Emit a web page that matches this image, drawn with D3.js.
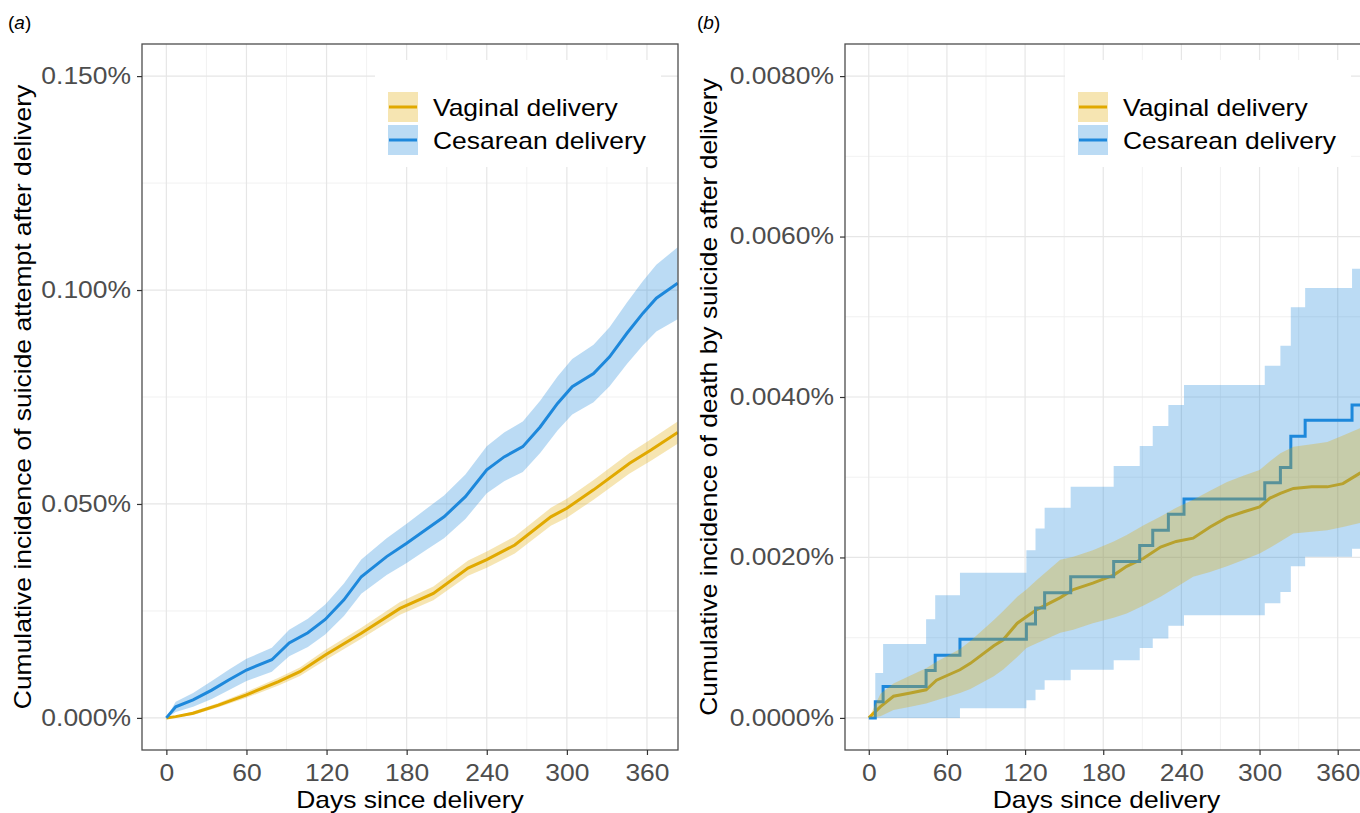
<!DOCTYPE html>
<html>
<head>
<meta charset="utf-8">
<script src="https://cdn.jsdelivr.net/npm/d3@7"></script>
<style>
  body { margin: 0; background: #fff; }
  svg { display: block; font-family: "Liberation Sans", Arial, sans-serif; }
</style>
</head>
<body>
<svg id="chart" width="1360" height="813"></svg>
<script>
// shared x axis (days since delivery)
var xTicks = [0, 60, 120, 180, 240, 300, 360];
var xMinor = [30, 90, 150, 210, 270, 330];
var xLimits = [-18.25, 383.25];
var seriesNames = ["Vaginal delivery", "Cesarean delivery"];

// (a) suicide attempt, values in %
var aYTicks = [0, 0.05, 0.10, 0.15];
var aYMinor = [0.025, 0.075, 0.125];
var aYLimits = [-0.0075, 0.1575];

var aVagDays = [0, 7, 20, 39, 60, 84, 100, 119, 146, 175, 200, 226, 240, 261, 288, 300, 320, 347, 363, 383];
var aVagEst  = [0, 0.0003, 0.0011, 0.0030, 0.0054, 0.0085, 0.0108, 0.0147, 0.0198, 0.0256, 0.0291, 0.0350, 0.0370, 0.0404, 0.0470, 0.0490, 0.0533, 0.0595, 0.0626, 0.0667];
var aVagLow  = [0, 0.0001, 0.0007, 0.0025, 0.0047, 0.0076, 0.0098, 0.0135, 0.0185, 0.0241, 0.0275, 0.0332, 0.0351, 0.0384, 0.0449, 0.0468, 0.0510, 0.0571, 0.0601, 0.0641];
var aVagHigh = [0, 0.0005, 0.0015, 0.0035, 0.0061, 0.0094, 0.0118, 0.0159, 0.0211, 0.0271, 0.0307, 0.0368, 0.0389, 0.0424, 0.0491, 0.0512, 0.0556, 0.0619, 0.0651, 0.0693];

var aCesDays = [0, 7, 20, 34, 47, 60, 79, 92, 106, 119, 133, 146, 165, 180, 194, 208, 224, 240, 253, 267, 280, 293, 304, 320, 332, 345, 357, 367, 383];
var aCesEst  = [0, 0.0026, 0.0042, 0.0065, 0.0089, 0.0112, 0.0136, 0.0175, 0.0199, 0.0230, 0.0276, 0.0330, 0.0377, 0.0408, 0.0439, 0.0470, 0.0517, 0.0580, 0.0610, 0.0634, 0.0680, 0.0735, 0.0774, 0.0805, 0.0844, 0.0899, 0.0946, 0.0981, 0.1016];
var aCesLow  = [0, 0.0014, 0.0026, 0.0044, 0.0065, 0.0086, 0.0108, 0.0144, 0.0166, 0.0195, 0.0238, 0.0290, 0.0334, 0.0362, 0.0391, 0.0420, 0.0465, 0.0525, 0.0553, 0.0575, 0.0619, 0.0672, 0.0709, 0.0738, 0.0775, 0.0827, 0.0871, 0.0903, 0.0932];
var aCesHigh = [0, 0.0038, 0.0058, 0.0086, 0.0113, 0.0138, 0.0164, 0.0206, 0.0232, 0.0265, 0.0314, 0.0370, 0.0420, 0.0454, 0.0487, 0.0520, 0.0569, 0.0635, 0.0667, 0.0693, 0.0741, 0.0798, 0.0839, 0.0872, 0.0913, 0.0971, 0.1021, 0.1059, 0.1100];

// (b) death by suicide, values in %
var bYTicks = [0, 0.002, 0.004, 0.006, 0.008];
var bYMinor = [0.001, 0.003, 0.005, 0.007];
var bYLimits = [-0.0004, 0.0084];

var bVagDays = [0, 9, 19, 32, 44, 52, 70, 78, 96, 103, 114, 121, 129, 147, 157, 172, 188, 198, 211, 224, 236, 249, 262, 275, 288, 300, 308, 316, 326, 340, 352, 364, 377, 383];
var bVagEst  = [0, 0.00014, 0.00027, 0.00031, 0.00035, 0.00047, 0.00060, 0.00068, 0.00090, 0.00097, 0.00118, 0.00126, 0.00135, 0.00150, 0.00160, 0.00168, 0.00178, 0.00189, 0.00199, 0.00213, 0.00220, 0.00224, 0.00238, 0.00250, 0.00257, 0.00263, 0.00274, 0.00280, 0.00286, 0.00288, 0.00288, 0.00292, 0.00305, 0.00308];
var bVagLow  = [0, 0.00002, 0.00010, 0.00014, 0.00018, 0.00022, 0.00031, 0.00036, 0.00052, 0.00060, 0.00076, 0.00087, 0.00093, 0.00106, 0.00110, 0.00118, 0.00125, 0.00130, 0.00140, 0.00151, 0.00163, 0.00176, 0.00182, 0.00189, 0.00197, 0.00205, 0.00212, 0.00220, 0.00230, 0.00232, 0.00234, 0.00238, 0.00243, 0.00245];
var bVagHigh = [0, 0.00030, 0.00043, 0.00053, 0.00062, 0.00070, 0.00086, 0.00096, 0.00122, 0.00133, 0.00151, 0.00160, 0.00172, 0.00197, 0.00201, 0.00209, 0.00220, 0.00228, 0.00240, 0.00251, 0.00262, 0.00272, 0.00283, 0.00294, 0.00302, 0.00309, 0.00320, 0.00330, 0.00338, 0.00341, 0.00344, 0.00352, 0.00361, 0.00364];

var bCesDays = [0, 5, 11, 44, 51, 70, 121, 128, 135, 155, 188, 208, 218, 230, 242, 304, 316, 324, 335, 371, 383];
var bCesEst  = [0, 0.00020, 0.00039, 0.00059, 0.00078, 0.00098, 0.00117, 0.00137, 0.00156, 0.00176, 0.00195, 0.00215, 0.00234, 0.00254, 0.00273, 0.00293, 0.00312, 0.00351, 0.00371, 0.00390, 0.00390];
var bCesLow  = [0, 0, 0, 0, 0, 0.00012, 0.00022, 0.00035, 0.00047, 0.00060, 0.00072, 0.00087, 0.00099, 0.00115, 0.00128, 0.00143, 0.00157, 0.00189, 0.00201, 0.00211, 0.00211];
var bCesHigh = [0, 0.00056, 0.00092, 0.00123, 0.00153, 0.00181, 0.00209, 0.00236, 0.00262, 0.00288, 0.00314, 0.00339, 0.00364, 0.00390, 0.00415, 0.00439, 0.00464, 0.00512, 0.00536, 0.00560, 0.00560];

var vagColor = "#e1a900";
var cesColor = "#1e88dc";
var SX = 1.15;   // the figure's sans is wider than Arial, stretch glyphs a bit

var svg = d3.select("#chart");

function rows(days, est, low, high) {
    return days.map(function (d, i) {
        return {day: d, est: est[i], low: low[i], high: high[i]};
    });
}

// text placed at x,y and stretched horizontally along its own direction
function label(parent, x, y, str, size, rotate) {
    var t = "translate(" + x + "," + y + ")" + (rotate ? " rotate(-90)" : "") + " scale(" + SX + ",1)";
    return parent.append("text")
        .attr("transform", t)
        .attr("font-size", size)
        .attr("fill", "#000")
        .text(str);
}

function drawPanel(p) {
    var g = svg.append("g");
    var right = p.left + p.width, bottom = p.top + p.height;

    var x = d3.scaleLinear().domain(xLimits).range([p.left, right]);
    var y = d3.scaleLinear().domain(p.yLimits).range([bottom, p.top]);

    svg.append("clipPath").attr("id", "clip-" + p.id)
        .append("rect")
        .attr("x", p.left).attr("y", p.top)
        .attr("width", p.width).attr("height", p.height);

    // grid, minor then major
    g.selectAll(".vmin").data(xMinor).enter().append("line")
        .attr("x1", x).attr("x2", x).attr("y1", p.top).attr("y2", bottom)
        .attr("stroke", "#efefef").attr("stroke-width", 0.9);
    g.selectAll(".hmin").data(p.yMinor).enter().append("line")
        .attr("x1", p.left).attr("x2", right).attr("y1", y).attr("y2", y)
        .attr("stroke", "#efefef").attr("stroke-width", 0.9);
    g.selectAll(".vmaj").data(xTicks).enter().append("line")
        .attr("x1", x).attr("x2", x).attr("y1", p.top).attr("y2", bottom)
        .attr("stroke", "#e6e6e6").attr("stroke-width", 1.2);
    g.selectAll(".hmaj").data(p.yTicks).enter().append("line")
        .attr("x1", p.left).attr("x2", right).attr("y1", y).attr("y2", y)
        .attr("stroke", "#e6e6e6").attr("stroke-width", 1.2);

    var plot = g.append("g").attr("clip-path", "url(#clip-" + p.id + ")");

    var vag = rows.apply(null, p.vag), ces = rows.apply(null, p.ces);

    function lineFor(curve) {
        return d3.line().x(function (d) { return x(d.day); })
            .y(function (d) { return y(d.est); }).curve(curve);
    }
    function areaFor(curve) {
        return d3.area().x(function (d) { return x(d.day); })
            .y0(function (d) { return y(d.low); })
            .y1(function (d) { return y(d.high); }).curve(curve);
    }

    // lines first, the ribbons are laid over them
    plot.append("path").datum(vag).attr("d", lineFor(p.vagCurve))
        .attr("fill", "none").attr("stroke", vagColor).attr("stroke-width", 3);
    plot.append("path").datum(ces).attr("d", lineFor(p.cesCurve))
        .attr("fill", "none").attr("stroke", cesColor).attr("stroke-width", 3);
    plot.append("path").datum(ces).attr("d", areaFor(p.cesCurve))
        .attr("fill", cesColor).attr("fill-opacity", 0.3);
    plot.append("path").datum(vag).attr("d", areaFor(p.vagCurve))
        .attr("fill", vagColor).attr("fill-opacity", 0.3);

    // legend
    var lx = right - 303, ly = 60;
    var leg = g.append("g");
    leg.append("rect").attr("x", lx).attr("y", ly).attr("width", 286).attr("height", 107)
        .attr("fill", "#fff");
    [vagColor, cesColor].forEach(function (c, i) {
        var ky = 92 + i * 33;
        leg.append("rect").attr("x", lx + 13).attr("y", ky).attr("width", 30).attr("height", 30)
            .attr("fill", c).attr("fill-opacity", 0.3);
        leg.append("line").attr("x1", lx + 14).attr("x2", lx + 42)
            .attr("y1", ky + 15).attr("y2", ky + 15)
            .attr("stroke", c).attr("stroke-width", 3);
        label(leg, lx + 58, ky + 24, seriesNames[i], 23);
    });

    // panel border
    g.append("rect").attr("x", p.left).attr("y", p.top)
        .attr("width", p.width).attr("height", p.height)
        .attr("fill", "none").attr("stroke", "#4d4d4d").attr("stroke-width", 1.3);

    // axes
    var ya = g.append("g").attr("transform", "translate(" + p.left + ",0)")
        .call(d3.axisLeft(y).tickValues(p.yTicks).tickSize(5).tickFormat(p.fmt));
    var xa = g.append("g").attr("transform", "translate(0," + bottom + ")")
        .call(d3.axisBottom(x).tickValues(xTicks).tickSize(5).tickPadding(10));

    [ya, xa].forEach(function (a) {
        a.attr("font-size", null).attr("font-family", null);
        a.select(".domain").remove();
        a.selectAll(".tick line").attr("stroke", "#333").attr("stroke-width", 1.2);
        a.selectAll(".tick text").attr("font-size", 23).attr("fill", "#4d4d4d");
    });
    ya.selectAll(".tick text").attr("x", 0).attr("transform", "translate(-11,0) scale(" + SX + ",1)");
    xa.selectAll(".tick text").attr("transform", "scale(" + SX + ",1)");

    // titles
    label(g, (p.left + right) / 2, 808, "Days since delivery", 23).attr("text-anchor", "middle");
    label(g, p.yTitleX, (p.top + bottom) / 2, p.yTitle, 23, true).attr("text-anchor", "middle");

    var tag = g.append("text").attr("x", p.tagX).attr("y", 29).attr("font-size", 19).attr("fill", "#000");
    tag.append("tspan").text("(");
    tag.append("tspan").attr("font-style", "italic").text(p.tag);
    tag.append("tspan").text(")");
}

drawPanel({
    id: "a", tag: "a", tagX: 8,
    left: 142, top: 44, width: 536, height: 706,
    yLimits: aYLimits, yTicks: aYTicks, yMinor: aYMinor,
    fmt: function (d) { return d.toFixed(3) + "%"; },
    vag: [aVagDays, aVagEst, aVagLow, aVagHigh],
    ces: [aCesDays, aCesEst, aCesLow, aCesHigh],
    vagCurve: d3.curveLinear, cesCurve: d3.curveLinear,
    yTitleX: 31,
    yTitle: "Cumulative incidence of suicide attempt after delivery"
});

drawPanel({
    id: "b", tag: "b", tagX: 697,
    left: 845, top: 44, width: 523, height: 706,
    yLimits: bYLimits, yTicks: bYTicks, yMinor: bYMinor,
    fmt: function (d) { return d.toFixed(4) + "%"; },
    vag: [bVagDays, bVagEst, bVagLow, bVagHigh],
    ces: [bCesDays, bCesEst, bCesLow, bCesHigh],
    vagCurve: d3.curveLinear, cesCurve: d3.curveStepAfter,
    yTitleX: 717,
    yTitle: "Cumulative incidence of death by suicide after delivery"
});
</script>
</body>
</html>
